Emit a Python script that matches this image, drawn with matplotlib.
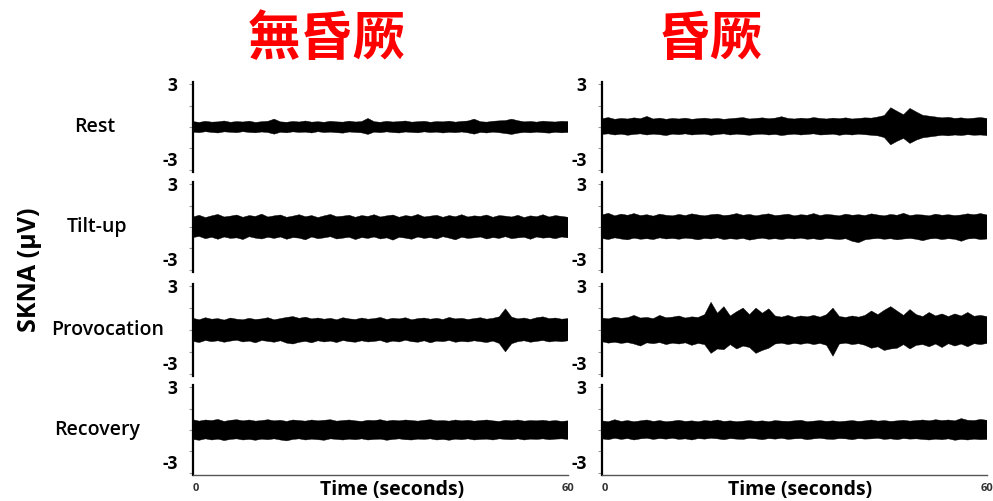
import numpy as np
import matplotlib
matplotlib.use("Agg")
import matplotlib.pyplot as plt

plt.rcParams['font.family'] = ['Open Sans', 'DejaVu Sans']

# column titles and row names
col_titles = ['無昏厥', '昏厥']
row_names = ['Rest', 'Tilt-up', 'Provocation', 'Recovery']

# SKNA envelope (uV) at 1 s steps, 0..60 s
# left column: no syncope
l_rest_up = [0.38,0.32,0.40,0.34,0.36,0.42,0.33,0.38,0.35,0.41,0.32,0.37,0.40,0.55,0.36,0.33,0.39,0.35,0.42,0.34,0.37,0.33,0.40,0.36,0.34,0.41,0.35,0.38,0.60,0.37,0.33,0.40,0.35,0.38,0.42,0.34,0.37,0.40,0.33,0.38,0.36,0.41,0.34,0.39,0.42,0.55,0.37,0.34,0.40,0.43,0.45,0.55,0.44,0.36,0.39,0.34,0.41,0.37,0.35,0.40,0.38]
l_rest_lo = [-0.36,-0.40,-0.33,-0.38,-0.42,-0.34,-0.37,-0.40,-0.33,-0.38,-0.41,-0.35,-0.39,-0.50,-0.37,-0.41,-0.34,-0.38,-0.36,-0.42,-0.33,-0.39,-0.36,-0.40,-0.43,-0.35,-0.38,-0.41,-0.52,-0.36,-0.40,-0.34,-0.39,-0.42,-0.35,-0.38,-0.41,-0.34,-0.39,-0.36,-0.42,-0.37,-0.40,-0.35,-0.41,-0.50,-0.38,-0.42,-0.36,-0.40,-0.46,-0.52,-0.43,-0.38,-0.41,-0.36,-0.40,-0.43,-0.37,-0.41,-0.38]
l_tilt_up = [0.70,0.82,0.66,0.78,0.88,0.70,0.76,0.84,0.68,0.80,0.74,0.90,0.70,0.78,0.84,0.68,0.76,0.86,0.72,0.80,0.66,0.78,0.88,0.72,0.76,0.82,0.68,0.80,0.74,0.86,0.70,0.78,0.84,0.68,0.80,0.74,0.88,0.70,0.76,0.82,0.68,0.80,0.72,0.86,0.70,0.78,0.74,0.84,0.68,0.80,0.76,0.70,0.82,0.66,0.78,0.72,0.86,0.70,0.80,0.74,0.68]
l_tilt_lo = [-0.74,-0.66,-0.82,-0.72,-0.86,-0.70,-0.80,-0.76,-0.88,-0.68,-0.78,-0.84,-0.72,-0.80,-0.70,-0.86,-0.74,-0.78,-0.90,-0.70,-0.82,-0.76,-0.68,-0.84,-0.78,-0.72,-0.88,-0.74,-0.80,-0.70,-0.84,-0.76,-0.92,-0.72,-0.78,-0.86,-0.70,-0.80,-0.74,-0.84,-0.68,-0.78,-0.90,-0.72,-0.80,-0.76,-0.70,-0.84,-0.74,-0.80,-0.68,-0.82,-0.76,-0.72,-0.86,-0.70,-0.78,-0.74,-0.82,-0.70,-0.76]
l_prov_up = [0.80,0.70,0.84,0.74,0.78,0.68,0.82,0.74,0.70,0.80,0.72,0.76,0.84,0.70,0.78,0.86,0.92,0.80,0.88,0.76,0.82,0.74,0.80,0.70,0.84,0.76,0.72,0.82,0.74,0.78,0.86,0.72,0.80,0.76,0.84,0.70,0.78,0.82,0.74,0.80,0.72,0.86,0.76,0.80,0.72,0.78,0.84,0.74,0.80,0.90,1.45,0.88,0.76,0.82,0.72,0.84,0.90,0.78,0.82,0.74,0.78]
l_prov_lo = [-0.78,-0.86,-0.72,-0.80,-0.74,-0.84,-0.76,-0.70,-0.82,-0.76,-0.88,-0.72,-0.78,-0.84,-0.74,-0.90,-0.96,-0.84,-0.78,-0.88,-0.74,-0.82,-0.76,-0.86,-0.72,-0.80,-0.84,-0.74,-0.82,-0.78,-0.72,-0.86,-0.76,-0.82,-0.70,-0.80,-0.84,-0.74,-0.88,-0.76,-0.80,-0.72,-0.84,-0.78,-0.82,-0.74,-0.80,-0.86,-0.76,-0.92,-1.50,-0.94,-0.80,-0.74,-0.84,-0.78,-0.72,-0.82,-0.76,-0.80,-0.74]
l_rec_up = [0.72,0.62,0.70,0.66,0.74,0.60,0.68,0.72,0.64,0.70,0.62,0.66,0.72,0.64,0.68,0.60,0.70,0.66,0.62,0.70,0.64,0.68,0.72,0.62,0.66,0.70,0.64,0.60,0.68,0.66,0.72,0.62,0.68,0.64,0.70,0.66,0.62,0.68,0.72,0.64,0.66,0.62,0.70,0.64,0.68,0.62,0.66,0.70,0.64,0.60,0.68,0.64,0.70,0.62,0.66,0.64,0.68,0.62,0.66,0.60,0.64]
l_rec_lo = [-0.66,-0.72,-0.62,-0.70,-0.64,-0.74,-0.66,-0.62,-0.70,-0.66,-0.72,-0.64,-0.68,-0.62,-0.70,-0.76,-0.66,-0.62,-0.70,-0.64,-0.68,-0.72,-0.62,-0.66,-0.70,-0.64,-0.68,-0.62,-0.70,-0.66,-0.64,-0.72,-0.66,-0.62,-0.68,-0.70,-0.64,-0.66,-0.62,-0.70,-0.66,-0.72,-0.64,-0.68,-0.62,-0.70,-0.66,-0.64,-0.70,-0.62,-0.66,-0.68,-0.62,-0.70,-0.64,-0.66,-0.62,-0.68,-0.64,-0.62,-0.66]

# right column: syncope
r_rest_up = [0.58,0.66,0.54,0.60,0.56,0.64,0.58,0.74,0.56,0.62,0.54,0.60,0.56,0.62,0.54,0.58,0.62,0.56,0.60,0.54,0.58,0.62,0.66,0.56,0.60,0.64,0.58,0.62,0.72,0.60,0.56,0.62,0.58,0.66,0.60,0.56,0.62,0.58,0.64,0.56,0.60,0.64,0.62,0.70,0.80,1.35,1.10,0.86,1.30,1.05,0.82,0.76,0.70,0.64,0.68,0.60,0.64,0.58,0.62,0.66,0.60]
r_rest_lo = [-0.52,-0.48,-0.56,-0.50,-0.58,-0.52,-0.48,-0.56,-0.50,-0.54,-0.60,-0.50,-0.54,-0.48,-0.56,-0.52,-0.50,-0.58,-0.52,-0.48,-0.56,-0.50,-0.54,-0.58,-0.52,-0.50,-0.56,-0.52,-0.60,-0.54,-0.50,-0.56,-0.52,-0.48,-0.56,-0.54,-0.50,-0.58,-0.52,-0.56,-0.50,-0.54,-0.58,-0.62,-0.74,-1.25,-1.00,-0.80,-1.15,-0.92,-0.76,-0.70,-0.64,-0.58,-0.62,-0.56,-0.60,-0.54,-0.58,-0.56,-0.60]
r_tilt_up = [0.84,0.96,0.78,0.90,0.82,0.94,0.80,0.86,0.76,0.90,0.82,0.78,0.88,0.80,0.92,0.84,0.78,0.86,0.90,0.80,0.84,0.94,0.82,0.88,0.78,0.86,0.92,0.80,0.84,0.90,0.78,0.86,0.82,0.94,0.80,0.88,0.84,0.78,0.90,0.82,0.86,0.80,0.92,0.84,0.78,0.88,0.82,0.96,0.80,0.86,0.84,0.78,0.90,0.82,0.86,0.80,0.84,0.92,0.86,0.94,0.84]
r_tilt_lo = [-0.80,-0.88,-0.76,-0.84,-0.90,-0.78,-0.86,-0.82,-0.88,-0.76,-0.84,-0.80,-0.86,-0.78,-0.82,-0.90,-0.80,-0.84,-0.76,-0.88,-0.82,-0.86,-0.80,-0.92,-0.84,-0.78,-0.86,-0.82,-0.88,-0.80,-0.84,-0.78,-0.86,-0.82,-0.90,-0.80,-0.84,-0.88,-0.82,-1.00,-1.10,-0.90,-0.84,-0.80,-0.86,-0.82,-0.90,-0.84,-0.80,-0.86,-0.96,-0.84,-0.80,-0.88,-0.82,-0.86,-1.00,-0.84,-0.80,-0.88,-0.84]
r_prov_up = [0.82,0.76,0.88,0.80,0.84,1.00,0.82,0.86,0.78,1.00,0.84,0.88,0.96,0.82,0.90,0.86,1.05,1.90,1.15,1.60,0.96,1.25,1.50,1.05,1.50,1.15,1.45,0.96,0.88,1.00,0.86,0.96,0.90,1.00,0.88,1.05,1.50,0.92,0.86,0.96,0.88,1.00,1.30,1.05,1.35,1.60,1.30,1.00,1.40,1.05,0.92,1.20,0.96,1.10,0.92,1.10,0.96,1.20,0.94,1.00,0.92]
r_prov_lo = [-0.80,-0.90,-0.84,-0.92,-0.86,-0.96,-1.10,-0.88,-0.94,-0.86,-1.00,-0.90,-0.96,-0.88,-1.05,-0.92,-1.00,-1.60,-1.30,-1.35,-1.00,-1.30,-1.10,-1.20,-1.60,-1.40,-1.25,-0.96,-0.90,-1.00,-0.92,-0.98,-0.90,-1.00,-0.92,-1.05,-1.80,-0.96,-0.90,-1.00,-0.94,-1.05,-1.25,-1.15,-1.40,-1.30,-1.25,-1.00,-1.30,-1.05,-1.00,-1.15,-0.96,-1.20,-0.94,-1.10,-0.96,-1.15,-0.94,-1.00,-0.92]
r_rec_up = [0.64,0.58,0.72,0.60,0.66,0.58,0.64,0.70,0.60,0.66,0.58,0.62,0.68,0.60,0.64,0.58,0.66,0.62,0.70,0.60,0.64,0.58,0.62,0.66,0.60,0.64,0.58,0.66,0.62,0.60,0.64,0.68,0.58,0.62,0.66,0.60,0.64,0.58,0.62,0.66,0.60,0.64,0.70,0.62,0.66,0.60,0.64,0.68,0.62,0.66,0.70,0.64,0.72,0.66,0.70,0.64,0.80,0.68,0.66,0.74,0.68]
r_rec_lo = [-0.62,-0.68,-0.58,-0.66,-0.60,-0.70,-0.62,-0.58,-0.66,-0.60,-0.64,-0.58,-0.66,-0.62,-0.70,-0.60,-0.64,-0.58,-0.62,-0.68,-0.60,-0.64,-0.66,-0.58,-0.62,-0.68,-0.60,-0.64,-0.58,-0.66,-0.62,-0.60,-0.68,-0.62,-0.58,-0.64,-0.66,-0.60,-0.62,-0.68,-0.60,-0.64,-0.62,-0.58,-0.66,-0.62,-0.68,-0.60,-0.64,-0.62,-0.66,-0.70,-0.64,-0.68,-0.62,-0.72,-0.66,-0.70,-0.64,-0.68,-0.66]

traces = [
    [(l_rest_up, l_rest_lo), (l_tilt_up, l_tilt_lo), (l_prov_up, l_prov_lo), (l_rec_up, l_rec_lo)],
    [(r_rest_up, r_rest_lo), (r_tilt_up, r_tilt_lo), (r_prov_up, r_prov_lo), (r_rec_up, r_rec_lo)],
]

W, H = 993, 501
fig = plt.figure(figsize=(W / 100, H / 100), dpi=100)

col_x = [(193, 375), (602, 385)]          # left px, width px
row_y = [(82, 172), (182, 272), (284, 376), (385, 475)]  # top px, bottom px
title_x = [327, 710]
xlabel_pos = [0.53, 0.515]
row_label_x = [95, 97, 108, 97]

for c in range(2):
    x0, w = col_x[c]
    for r in range(4):
        top, bot = row_y[r]
        ax = fig.add_axes([x0 / W, 1 - bot / H, w / W, (bot - top) / H])
        up, lo = traces[c][r]
        tu = np.linspace(0, 60, len(up))
        tl = np.linspace(0, 60, len(lo))
        ax.fill(np.concatenate([tu, tl[::-1]]), np.concatenate([up, lo[::-1]]),
                color='black', lw=0.3, ec='black')
        ax.set_xlim(0, 60)
        ax.set_ylim(-3.15, 3.15)
        for s in ['top', 'right']:
            ax.spines[s].set_visible(False)
        ax.spines['left'].set_linewidth(1.6)
        ax.set_yticks([-3, -1.5, 0, 1.5, 3])
        ax.set_yticklabels(['-3', '', '', '', '3'], fontsize=12.5, fontweight='bold')
        ax.get_yticklabels()[0].set_va('bottom')
        ax.tick_params(axis='y', length=3, width=0.8, color='#999999', pad=8)
        if r == 3:
            ax.spines['bottom'].set_linewidth(1.0)
            ax.spines['bottom'].set_color('#555555')
            ax.set_xticks([0, 60])
            ax.set_xticklabels(['0', '60'], fontsize=8, fontweight='bold', color='#333333')
            ax.get_xticklabels()[0].set_ha('left')
            ax.tick_params(axis='x', length=0, pad=6)
            ax.text(xlabel_pos[c], -0.17, 'Time (seconds)', transform=ax.transAxes,
                    ha='center', va='center', fontsize=14, fontweight='bold')
        else:
            ax.spines['bottom'].set_visible(False)
            ax.set_xticks([])
        if c == 0:
            fig.text(row_label_x[r] / W, 1 - (top + bot) / 2 / H, row_names[r],
                     ha='center', va='center', fontsize=14, fontweight='semibold')
    fig.text(title_x[c] / W, 1 - 39 / H, col_titles[c], ha='center', va='center',
             fontsize=38, fontweight='bold', color='#ff0000',
             family=['Noto Sans CJK TC', 'DejaVu Sans'])

fig.text(30 / W, 1 - 270 / H, 'SKNA (μV)', rotation=90, ha='center', va='center',
         fontsize=18, fontweight='bold')

fig.savefig('out.png', dpi=100)
